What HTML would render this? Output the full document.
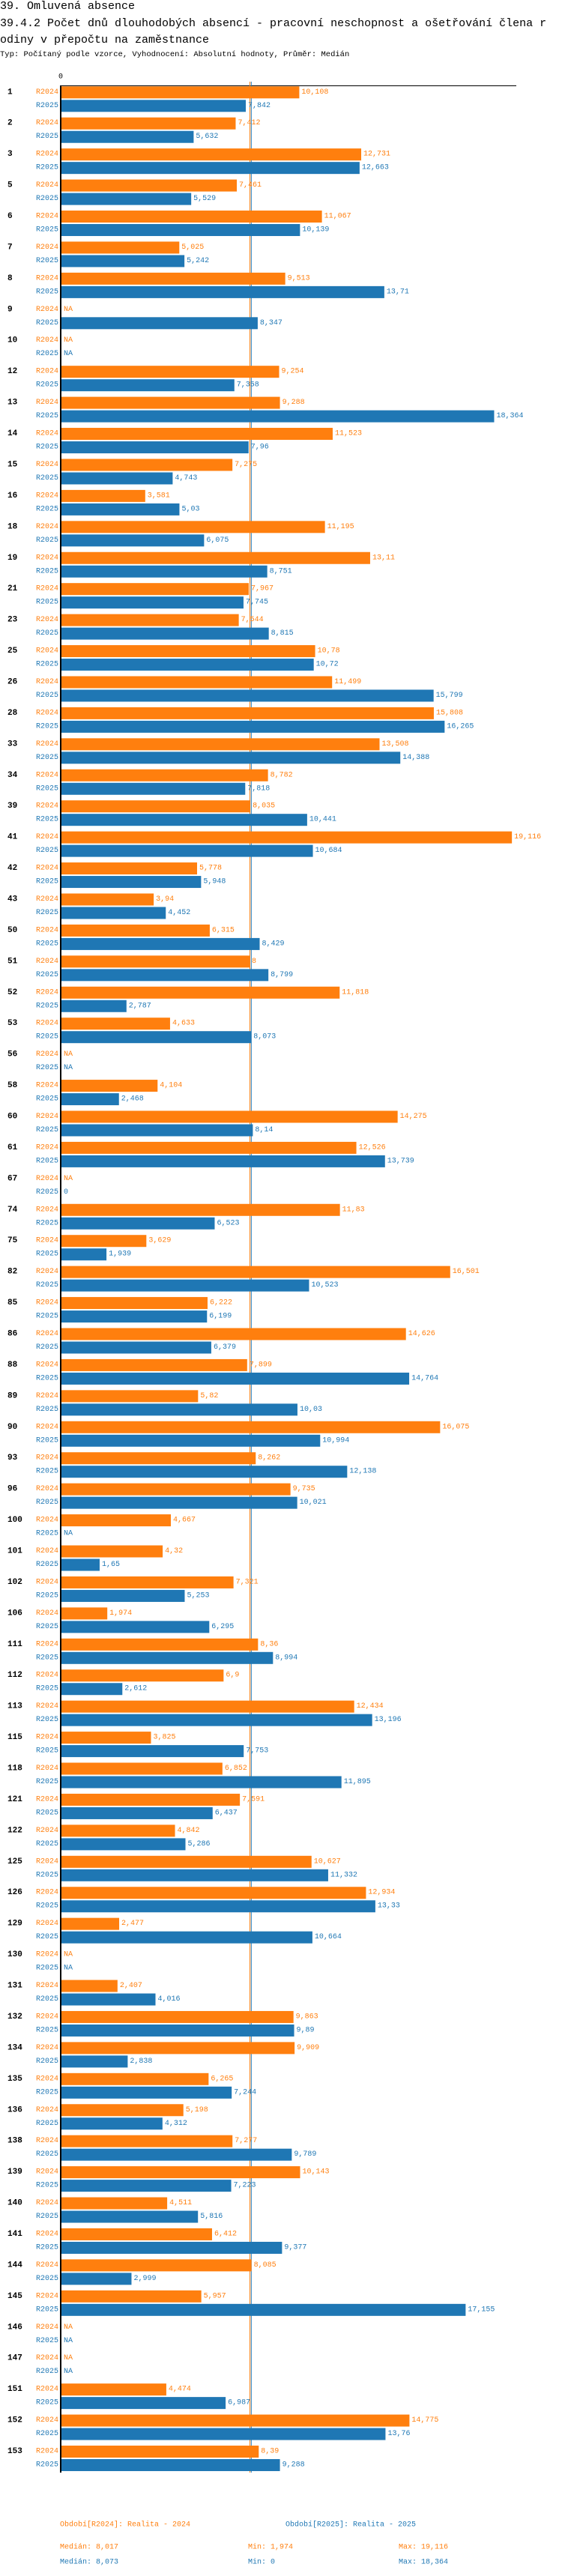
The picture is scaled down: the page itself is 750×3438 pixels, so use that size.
<!DOCTYPE html>
<html><head><meta charset="utf-8">
<style>
html,body{margin:0;padding:0;background:#fff;}
body{width:750px;height:3438px;overflow:hidden;position:relative;font-family:"Liberation Mono","DejaVu Sans Mono",monospace;}
.t{position:absolute;left:0;white-space:nowrap;color:#000;}
svg text{font-family:"Liberation Mono","DejaVu Sans Mono",monospace;}
</style></head><body>
<div class="t" style="top:0px;font-size:15px;line-height:17px;">39. Omluvená absence</div>
<div class="t" style="top:21px;font-size:15px;line-height:22px;">39.4.2 Počet dnů dlouhodobých absencí - pracovní neschopnost a ošetřování člena r<br>odiny v přepočtu na zaměstnance</div>
<div class="t" style="top:66px;font-size:10.5px;line-height:14px;">Typ: Počítaný podle vzorce, Vyhodnocení: Absolutní hodnoty, Průměr: Medián</div>
<svg id="chart" width="750" height="3438" style="position:absolute;left:0;top:0;" xmlns="http://www.w3.org/2000/svg"></svg>
<script>
const ids=[1,2,3,5,6,7,8,9,10,12,13,14,15,16,18,19,21,23,25,26,28,33,34,39,41,42,43,50,51,52,53,56,58,60,61,67,74,75,82,85,86,88,89,90,93,96,100,101,102,106,111,112,113,115,118,121,122,125,126,129,130,131,132,134,135,136,138,139,140,141,144,145,146,147,151,152,153];
const v2024=[10.108,7.412,12.731,7.461,11.067,5.025,9.513,null,null,9.254,9.288,11.523,7.275,3.581,11.195,13.11,7.967,7.544,10.78,11.499,15.808,13.508,8.782,8.035,19.116,5.778,3.94,6.315,8,11.818,4.633,null,4.104,14.275,12.526,null,11.83,3.629,16.501,6.222,14.626,7.899,5.82,16.075,8.262,9.735,4.667,4.32,7.321,1.974,8.36,6.9,12.434,3.825,6.852,7.591,4.842,10.627,12.934,2.477,null,2.407,9.863,9.909,6.265,5.198,7.277,10.143,4.511,6.412,8.085,5.957,null,null,4.474,14.775,8.39];
const v2025=[7.842,5.632,12.663,5.529,10.139,5.242,13.71,8.347,null,7.358,18.364,7.96,4.743,5.03,6.075,8.751,7.745,8.815,10.72,15.799,16.265,14.388,7.818,10.441,10.684,5.948,4.452,8.429,8.799,2.787,8.073,null,2.468,8.14,13.739,0,6.523,1.939,10.523,6.199,6.379,14.764,10.03,10.994,12.138,10.021,null,1.65,5.253,6.295,8.994,2.612,13.196,7.753,11.895,6.437,5.286,11.332,13.33,10.664,null,4.016,9.89,2.838,7.244,4.312,9.789,7.223,5.816,9.377,2.999,17.155,null,null,6.987,13.76,9.288];
const medians=[8.017,8.073];
const mins=["1,974","0"];
const maxs=["19,116","18,364"];
const seriesNames=["R2024","R2025"];
const legendLabels=["Období[R2024]: Realita - 2024","Období[R2025]: Realita - 2025"];

const colors=["#ff7f0e","#1f77b4"];
const X0=81, K=31.5, Y0=115.3, PITCH=41.43, BH=16, OFF=18;
const xs=v=>X0+v*K;
const ys=(i,s)=>Y0+i*PITCH+s*OFF;
const svg=document.getElementById('chart');
const NS='http://www.w3.org/2000/svg';
function mk(tag,attrs,txt){const e=document.createElementNS(NS,tag);for(const k in attrs)e.setAttribute(k,attrs[k]);if(txt!==undefined)e.textContent=txt;svg.appendChild(e);return e;}
const fmt=v=>String(v).replace('.',',');
const bottom=Y0+(ids.length-1)*PITCH+OFF+BH+2;

let e;
e=mk('text',{x:X0,y:103,'font-size':10,'text-anchor':'middle','dominant-baseline':'central',fill:'#000'},'0');


e=mk('line',{x1:X0,y1:114.5,x2:689,y2:114.5,stroke:'#000','stroke-width':1});



medians.forEach((m,s)=>{
  const l=mk('line',{x1:xs(m),y1:109,x2:xs(m),y2:bottom,stroke:colors[s],'stroke-width':1});
  
  
});

const series=[v2024,v2025];
ids.forEach((id,i)=>{
  const g=mk('text',{x:10,y:ys(i,0)+BH/2,'font-size':11,'font-weight':'bold','dominant-baseline':'central',fill:'#000'},String(id));
  
  
  series.forEach((arr,s)=>{
    const v=arr[i];
    const y=ys(i,s);
    const sl=mk('text',{x:78,y:y+BH/2,'font-size':10,'text-anchor':'end','dominant-baseline':'central',fill:colors[s]},seriesNames[s]);
    
    
    let endX=X0+1;
    if(v!==null && v>0){
      const r=mk('rect',{x:X0+1,y:y,width:xs(v)-X0-1,height:BH,fill:colors[s]});
      
      
      endX=xs(v);
    }
    const vl=mk('text',{x:endX+3,y:y+BH/2,'font-size':10,'dominant-baseline':'central',fill:colors[s]},v===null?'NA':fmt(v));
    
    
  });
});

e=mk('line',{x1:X0,y1:114,x2:X0,y2:bottom,stroke:'#000','stroke-width':2});



const legX=[80,381];
legendLabels.forEach((t,s)=>{
  const l=mk('text',{x:legX[s],y:3370,'font-size':10,'dominant-baseline':'central',fill:colors[s]},t);
  
  
});
const statY=[3400,3420];
medians.forEach((m,s)=>{
  const a=mk('text',{x:80,y:statY[s],'font-size':10,'dominant-baseline':'central',fill:colors[s]},'Medián: '+fmt(m));
  
  
  const b=mk('text',{x:331,y:statY[s],'font-size':10,'dominant-baseline':'central',fill:colors[s]},'Min: '+mins[s]);
  
  
  const c=mk('text',{x:532,y:statY[s],'font-size':10,'dominant-baseline':'central',fill:colors[s]},'Max: '+maxs[s]);
  
  
});
</script>
</body></html>
